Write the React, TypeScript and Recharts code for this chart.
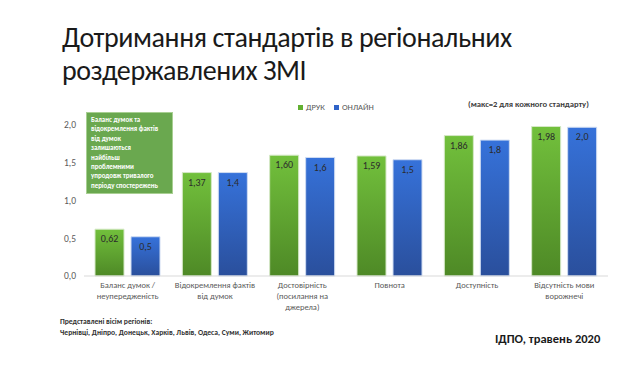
import { BarChart, Bar, XAxis, YAxis, LabelList } from "recharts";

const categories = [
  ["Баланс думок /", "неупередженість"],
  ["Відокремлення фактів", "від думок"],
  ["Достовірність", "(посилання на", "джерела)"],
  ["Повнота"],
  ["Доступність"],
  ["Відсутність мови", "ворожнечі"],
];
const pressValues = [0.62, 1.37, 1.6, 1.59, 1.86, 1.98];
const onlineValues = [0.52, 1.37, 1.57, 1.54, 1.8, 1.97];
const yTicks = [0, 0.5, 1, 1.5, 2];
const seriesNames = ["ДРУК", "ОНЛАЙН"];
const noteLines = [
  "Баланс думок та",
  "відокремлення фактів",
  "від думок",
  "залишаються",
  "найбільш",
  "проблемними",
  "упродовж тривалого",
  "періоду спостережень",
];

const data = categories.map((lines, i) => ({
  name: lines.join(" "),
  press: pressValues[i],
  online: onlineValues[i],
}));

const comma = (v: number, d: number) => v.toFixed(d).replace(".", ",");

const font = "Calibri, 'Open Sans', sans-serif";

function CategoryTick(props: any) {
  const { x, y, payload, index } = props;
  const lines = categories[index] ?? [payload.value];
  return (
    <text x={x} y={y + 4} textAnchor="middle" fontSize={8.5} fill="#595959" fontFamily={font}>
      {lines.map((l: string, i: number) => (
        <tspan key={i} x={x} dy={i === 0 ? 0 : 11}>
          {l}
        </tspan>
      ))}
    </text>
  );
}

export default function App() {
  return (
    <div
      style={{
        position: "absolute",
        left: 0,
        top: 0,
        width: 638,
        height: 377,
        background: "#fff",
        fontFamily: font,
        overflow: "hidden",
      }}
    >
      <div
        style={{
          position: "absolute",
          left: 62,
          top: 21,
          fontSize: 28,
          lineHeight: "33px",
          color: "#1a1a1a",
          letterSpacing: -0.4,
        }}
      >
        <div>Дотримання стандартів в регіональних</div>
        <div>роздержавлених ЗМІ</div>
      </div>

      <BarChart
        width={638}
        height={377}
        data={data}
        margin={{ top: 125, right: 30, bottom: 0, left: 0 }}
        barSize={29}
        barGap={7}
        style={{ position: "absolute", left: 0, top: 0 }}
      >
        <defs>
          <linearGradient id="gPress" x1="0" y1="0" x2="0" y2="1">
            <stop offset="0%" stopColor="#72c03c" />
            <stop offset="100%" stopColor="#4e8926" />
          </linearGradient>
          <linearGradient id="gOnline" x1="0" y1="0" x2="0" y2="1">
            <stop offset="0%" stopColor="#3672da" />
            <stop offset="100%" stopColor="#2a4f9c" />
          </linearGradient>
        </defs>
        <XAxis
          dataKey="name"
          tickLine={false}
          axisLine={{ stroke: "#d9d9d9" }}
          tick={<CategoryTick />}
          interval={0}
          height={101}
        />
        <YAxis
          domain={[0, 2]}
          ticks={yTicks}
          interval={0}
          width={84}
          axisLine={false}
          tickLine={false}
          tick={{ fontSize: 9.5, fill: "#595959", fontFamily: font }}
          tickFormatter={(v: number) => comma(v, 1)}
        />
        <Bar dataKey="press" name={seriesNames[0]} fill="url(#gPress)" stroke="#d5e8c6" strokeWidth={1} isAnimationActive={false}>
          <LabelList
            dataKey="press"
            position="insideTop"
            offset={6}
            fontSize={10}
            fill="#2b2b2b"
            fontFamily={font}
            formatter={(v: any) => comma(Number(v), 2)}
          />
        </Bar>
        <Bar dataKey="online" name={seriesNames[1]} fill="url(#gOnline)" stroke="#cfdcf2" strokeWidth={1} isAnimationActive={false}>
          <LabelList
            dataKey="online"
            position="insideTop"
            offset={6}
            fontSize={10}
            fill="#2b2b2b"
            fontFamily={font}
            formatter={(v: any) => comma(Number(v), 1)}
          />
        </Bar>
      </BarChart>

      <div
        style={{
          position: "absolute",
          left: 298,
          top: 102,
          fontSize: 8.5,
          color: "#595959",
          display: "flex",
          gap: 9,
          alignItems: "center",
        }}
      >
        <span style={{ display: "flex", alignItems: "center", gap: 3 }}>
          <span style={{ width: 5, height: 5, background: "#62b031", display: "inline-block" }} />
          {seriesNames[0]}
        </span>
        <span style={{ display: "flex", alignItems: "center", gap: 3 }}>
          <span style={{ width: 5, height: 5, background: "#2f63c8", display: "inline-block" }} />
          {seriesNames[1]}
        </span>
      </div>

      <div
        style={{
          position: "absolute",
          left: 468,
          top: 99,
          fontSize: 8.6,
          fontWeight: 700,
          color: "#404040",
          whiteSpace: "nowrap",
        }}
      >
        (макс=2 для кожного стандарту)
      </div>

      <div
        style={{
          position: "absolute",
          left: 86,
          top: 112,
          width: 81,
          height: 76,
          padding: "2px 0 2px 4px",
          background: "#6aa84f",
          border: "1px solid #a8cf92",
          color: "#fff",
          fontSize: 6.9,
          fontWeight: 700,
          lineHeight: "9.4px",
          whiteSpace: "nowrap",
          overflow: "hidden",
        }}
      >
        {noteLines.map((l, i) => (
          <div key={i}>{l}</div>
        ))}
      </div>

      <div
        style={{
          position: "absolute",
          left: 60,
          top: 316,
          fontSize: 7.6,
          fontWeight: 700,
          color: "#333",
          lineHeight: "11px",
          whiteSpace: "nowrap",
        }}
      >
        Представлені вісім регіонів:
        <br />
        Чернівці, Дніпро, Донецьк, Харків, Львів, Одеса, Суми, Житомир
      </div>

      <div
        style={{
          position: "absolute",
          left: 495,
          top: 331,
          fontSize: 12.5,
          fontWeight: 700,
          color: "#1a1a1a",
          whiteSpace: "nowrap",
        }}
      >
        ІДПО, травень 2020
      </div>
    </div>
  );
}
